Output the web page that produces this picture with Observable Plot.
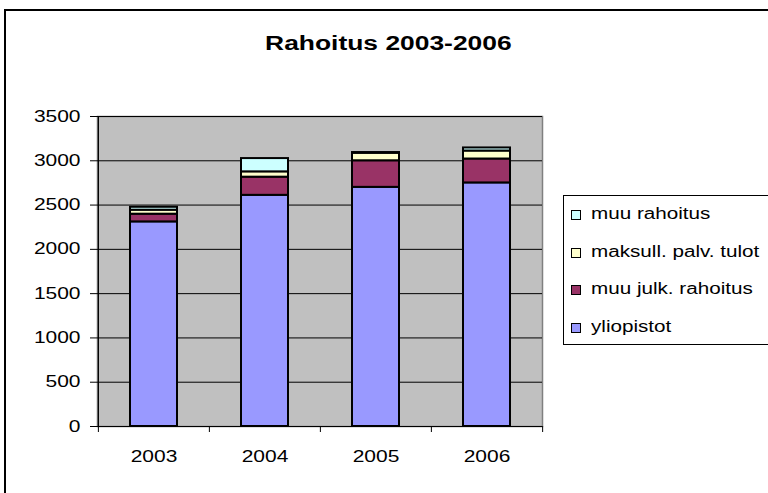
<!DOCTYPE html>
<html><head><meta charset="utf-8">
<script src="https://cdn.jsdelivr.net/npm/d3@7"></script>
<script src="https://cdn.jsdelivr.net/npm/@observablehq/plot@0.6"></script>
<style>
body{margin:0;background:#fff;font-family:"Liberation Sans",Arial,sans-serif;}
#wrap{position:relative;width:768px;height:493px;overflow:hidden;background:#fff;}
#border{position:absolute;left:4px;top:9px;width:820px;height:540px;border:2px solid #000;box-sizing:border-box;}
#chart{position:absolute;left:0;top:0;}
#title{position:absolute;left:0;width:776px;top:32px;text-align:center;font-weight:bold;font-size:20px;line-height:23px;color:#000;}
#title span{display:inline-block;transform:scaleX(1.32);transform-origin:center;}
#legend{position:absolute;left:563px;top:195px;width:300px;height:150px;border:1px solid #000;background:#fff;box-sizing:border-box;}
.item{position:absolute;left:0;height:20px;width:290px;}
.sw{position:absolute;left:7px;top:6px;width:8px;height:8px;border:1px solid #000;box-sizing:content-box;}
.lab{position:absolute;left:27px;top:0px;font-size:16px;line-height:19px;white-space:nowrap;transform:scaleX(1.29);transform-origin:left center;color:#000;}
</style></head>
<body>
<div id="wrap">
  <div id="border"></div>
  <div id="chart"></div>
  <div id="title"><span>Rahoitus 2003-2006</span></div>
  <div id="legend"></div>
</div>
<script>
const years = ["2003", "2004", "2005", "2006"];
const seriesNames = ["yliopistot", "muu julk. rahoitus", "maksull. palv. tulot", "muu rahoitus"];
const yliopistot = [2310, 2610, 2700, 2750];
const muuJulkRahoitus = [87, 205, 300, 270];
const maksullPalvTulot = [45, 60, 85, 90];
const muuRahoitus = [33, 150, 8, 35];
const seriesColors = ["#9999FF", "#993366", "#FFFFCC", "#CCFFFF"];
const yTicks = [0, 500, 1000, 1500, 2000, 2500, 3000, 3500];

const seriesValues = [yliopistot, muuJulkRahoitus, maksullPalvTulot, muuRahoitus];
const rows = [];
years.forEach((yr, i) => {
  seriesNames.forEach((s, j) => rows.push({year: yr, series: s, value: seriesValues[j][i]}));
});

const W = 768, H = 493, mL = 97, mR = 226, mT = 116, mB = 67;
const step = (W - mL - mR) / years.length;
const tickLen = 6 * 3500 / (H - mT - mB);

const chart = Plot.plot({
  width: W, height: H,
  marginLeft: mL, marginRight: mR, marginTop: mT, marginBottom: mB,
  style: {fontFamily: "'Liberation Sans', Arial, sans-serif", fontSize: "16px", color: "#000", background: "transparent"},
  x: {domain: years, paddingInner: 0.58, paddingOuter: 0.29, label: null},
  y: {domain: [0, 3500], label: null},
  color: {domain: seriesNames, range: seriesColors},
  marks: [
    Plot.frame({fill: "#C0C0C0", stroke: "#808080", strokeWidth: 1.5}),
    Plot.ruleY(yTicks.slice(1), {stroke: "#000", strokeWidth: 1}),
    Plot.barY(rows, Plot.stackY({order: seriesNames}, {x: "year", y: "value", fill: "series", stroke: "#000", strokeWidth: 2})),
    Plot.ruleY([0], {stroke: "#000", strokeWidth: 1.2}),
    Plot.ruleX([years[0]], {dx: -step / 2, stroke: "#000", strokeWidth: 1.2}),
    Plot.ruleX(years, {y1: 0, y2: -tickLen, dx: -step / 2, stroke: "#000"}),
    Plot.ruleX([years[years.length - 1]], {y1: 0, y2: -tickLen, dx: step / 2, stroke: "#000"}),
    Plot.axisY({ticks: yTicks, tickSize: 7, tickPadding: 10, tickFormat: d => String(d), fontSize: 16, stroke: "#000"}),
    Plot.axisX({tickSize: 0, tickPadding: 24, fontSize: 16})
  ]
});
document.getElementById("chart").appendChild(chart);

// Reference text is horizontally stretched: widen every SVG label.
chart.querySelectorAll("text").forEach(t => {
  const len = t.getComputedTextLength();
  if (len > 0) {
    t.setAttribute("textLength", len * 1.31);
    t.setAttribute("lengthAdjust", "spacingAndGlyphs");
  }
});

const legend = document.getElementById("legend");
const legendOrder = seriesNames.map((s, j) => ({s, c: seriesColors[j]})).reverse();
legendOrder.forEach((d, i) => {
  const it = document.createElement("div");
  it.className = "item";
  it.style.top = (8 + i * 37.7) + "px";
  it.innerHTML = `<div class="sw" style="background:${d.c}"></div><div class="lab">${d.s}</div>`;
  legend.appendChild(it);
});
</script>
</body></html>
